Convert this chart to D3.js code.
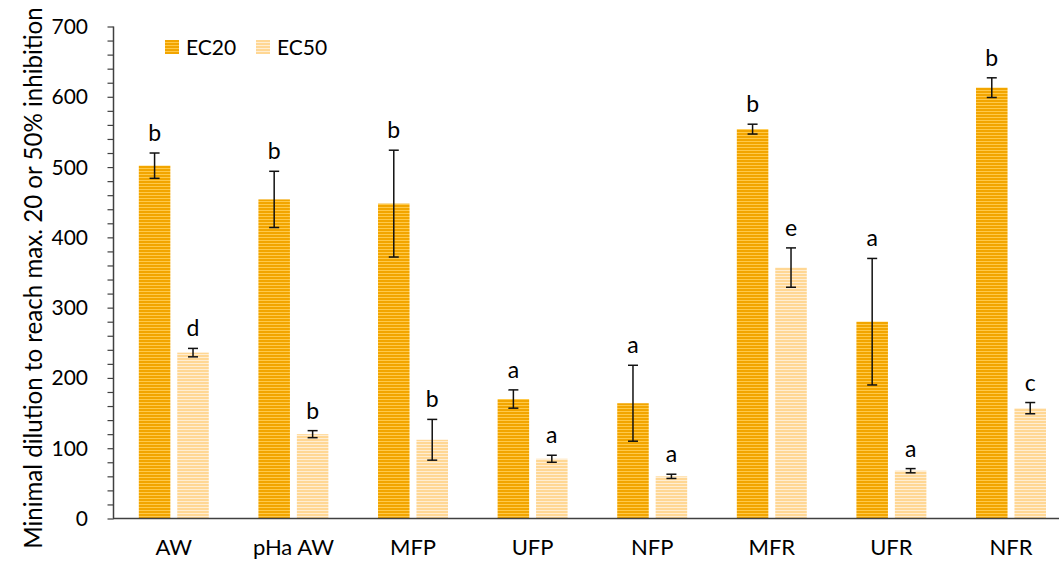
<!DOCTYPE html>
<html>
<head>
<meta charset="utf-8">
<script src="https://cdn.jsdelivr.net/npm/d3@7"></script>
<style>
  body { margin: 0; background: #fff; }
  text { font-family: Lato, "Open Sans", sans-serif; fill: #000; }
</style>
</head>
<body>
<div id="app"></div>
<script>
const categories = ['AW', 'pHa AW', 'MFP', 'UFP', 'NFP', 'MFR', 'UFR', 'NFR'];
const series = ['EC20', 'EC50'];

const ec20 = [502, 454, 448, 170, 164, 554, 280, 613];
const ec20Err = [18, 40, 76, 13, 54, 7, 90, 14];
const ec20Letters = ['b', 'b', 'b', 'a', 'a', 'b', 'a', 'b'];

const ec50 = [236, 120, 112, 85, 60, 357, 68, 157];
const ec50Err = [6, 5, 29, 5, 3, 28, 3, 8];
const ec50Letters = ['d', 'b', 'b', 'a', 'a', 'e', 'a', 'c'];

const yTicks = [0, 100, 200, 300, 400, 500, 600, 700];

const width = 1059, height = 561;

const svg = d3.select('#app')
  .append('svg')
  .attr('width', width)
  .attr('height', height);

// striped fills
const defs = svg.append('defs');
const patterns = [
  { id: 'p-ec20', base: '#FFC94A', line: '#F2A500' },
  { id: 'p-ec50', base: '#FFEED3', line: '#FFD794' }
];
patterns.forEach(p => {
  const pat = defs.append('pattern')
    .attr('id', p.id)
    .attr('patternUnits', 'userSpaceOnUse')
    .attr('width', 4)
    .attr('height', 3);
  pat.append('rect').attr('width', 4).attr('height', 3).attr('fill', p.base);
  pat.append('rect').attr('y', 1).attr('width', 4).attr('height', 2).attr('fill', p.line);
});

const x0 = d3.scaleBand()
  .domain(categories)
  .range([114, 114 + 8 * 119.6])
  .paddingInner(0.415)
  .paddingOuter(0.2075);

const x1 = d3.scaleBand()
  .domain(series)
  .range([0, x0.bandwidth()])
  .paddingInner(0.18);

const y = d3.scaleLinear()
  .domain([0, 700])
  .range([518.5, 26.5]);

const rows = [];
categories.forEach((c, i) => {
  rows.push({ cat: c, s: 'EC20', v: ec20[i], e: ec20Err[i], l: ec20Letters[i] });
  rows.push({ cat: c, s: 'EC50', v: ec50[i], e: ec50Err[i], l: ec50Letters[i] });
});

// bars
svg.selectAll('rect.bar')
  .data(rows)
  .enter()
  .append('rect')
  .attr('class', 'bar')
  .attr('x', d => x0(d.cat) + x1(d.s))
  .attr('y', d => y(d.v))
  .attr('width', x1.bandwidth())
  .attr('height', d => y(0) - y(d.v))
  .attr('fill', d => d.s === 'EC20' ? 'url(#p-ec20)' : 'url(#p-ec50)');

// error bars
const eb = svg.selectAll('g.err')
  .data(rows)
  .enter()
  .append('g')
  .attr('class', 'err')
  .attr('transform', d => `translate(${x0(d.cat) + x1(d.s) + x1.bandwidth() / 2},0)`)
  .attr('stroke', '#111')
  .attr('stroke-width', 1.5);
eb.append('line').attr('y1', d => y(d.v + d.e)).attr('y2', d => y(d.v - d.e));
eb.append('line').attr('x1', -5).attr('x2', 5).attr('y1', d => y(d.v + d.e)).attr('y2', d => y(d.v + d.e));
eb.append('line').attr('x1', -5).attr('x2', 5).attr('y1', d => y(d.v - d.e)).attr('y2', d => y(d.v - d.e));

// significance letters
svg.selectAll('text.letter')
  .data(rows)
  .enter()
  .append('text')
  .attr('class', 'letter')
  .attr('x', d => x0(d.cat) + x1(d.s) + x1.bandwidth() / 2)
  .attr('y', d => y(d.v + d.e) - 12)
  .attr('text-anchor', 'middle')
  .style('font-size', '23px')
  .text(d => d.l);

// y axis
const yAxis = svg.append('g')
  .attr('transform', 'translate(113.5,0)')
  .call(d3.axisLeft(y).tickValues(d3.range(0, 701, 20)).tickSize(6).tickFormat(''));
yAxis.select('.domain').attr('stroke', '#404040').attr('stroke-width', 1.5).attr('d', `M0,${y(700)}V${y(0)}`);
yAxis.selectAll('.tick line').attr('stroke', '#404040').attr('stroke-width', 1.2);

svg.selectAll('text.ytick')
  .data(yTicks)
  .enter()
  .append('text')
  .attr('class', 'ytick')
  .attr('x', 88)
  .attr('y', d => y(d) + 7.5)
  .attr('text-anchor', 'end')
  .style('font-size', '21px')
  .text(d => d);

// x axis
svg.append('line')
  .attr('x1', 113).attr('x2', width)
  .attr('y1', y(0)).attr('y2', y(0))
  .attr('stroke', '#404040')
  .attr('stroke-width', 1.5);

svg.selectAll('text.xlab')
  .data(categories)
  .enter()
  .append('text')
  .attr('class', 'xlab')
  .attr('x', d => x0(d) + x0.bandwidth() / 2)
  .attr('y', 555)
  .attr('text-anchor', 'middle')
  .style('font-size', '22px')
  .text(d => d);

// y title
const title = svg.append('text')
  .attr('transform', 'translate(42,278) rotate(-90)')
  .attr('text-anchor', 'middle')
  .style('font-size', '20px')
  .text('Minimal dilution to reach max. 20 or 50% inhibition');
const tl = title.node().getComputedTextLength();
title.style('font-size', (20 * 542 / tl) + 'px');

// legend
const legend = svg.append('g');
const legX = [165, 256];
series.forEach((s, i) => {
  legend.append('rect')
    .attr('x', legX[i]).attr('y', 40)
    .attr('width', 14).attr('height', 14)
    .attr('fill', i === 0 ? 'url(#p-ec20)' : 'url(#p-ec50)');
  legend.append('text')
    .attr('x', legX[i] + 21).attr('y', 55)
    .style('font-size', '21px')
    .text(s);
});
</script>
</body>
</html>
